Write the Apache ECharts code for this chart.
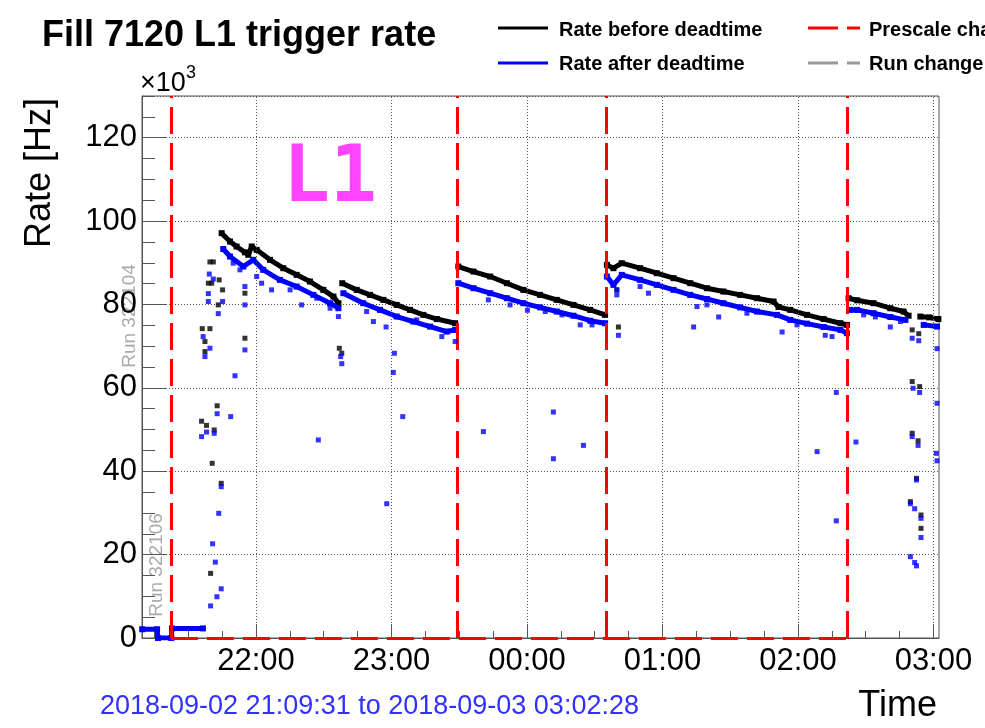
<!DOCTYPE html>
<html lang="en" style="background: #FFFFFF;height: 100%">
<head>
    <meta charset="utf-8" />
    <title>Fill 7120 L1 trigger rate</title>
    <script src="https://cdn.jsdelivr.net/npm/echarts@6/dist/echarts.min.js"></script>
</head>
<body style="margin: 0;height: 100%">
    <div id="chart" style="width:985px;height:728px"></div>
    <script>
    // x values are minutes after 2018-09-02 21:00
    let tStart = 9.52   // 21:09:31
    let tEnd = 362.47   // 03:02:28
    let hourTicks = [60, 120, 180, 240, 300, 360]
    let hourLabels = ['22:00', '23:00', '00:00', '01:00', '02:00', '03:00']
    let quarterTicks = [15, 30, 45, 60, 75, 90, 105, 120, 135, 150, 165, 180, 195, 210, 225, 240, 255, 270, 285, 300, 315, 330, 345, 360]
    let prescaleTimes = [22.3, 149.2, 215.0, 322.0]

    // rate before deadtime (x10^3 Hz), one list per fill segment
    let beforeSegments = [
        [[44.8, 97.1], [48.5, 95.1], [51.4, 93.9], [55.1, 92.5], [56.6, 91.9], [58.1, 93.9], [60.3, 93.1], [66.2, 90.7], [72.1, 88.7], [78.0, 87.1], [83.9, 85.5], [89.8, 83.5], [94.3, 81.9], [96.5, 80.3]],
        [[98.2, 85.1], [104.6, 83.5], [110.5, 82.3], [116.4, 81.1], [122.3, 79.9], [128.2, 78.7], [134.1, 77.5], [140.1, 76.5], [148.2, 75.5]],
        [[149.6, 89.1], [156.3, 87.9], [163.7, 86.7], [171.1, 85.1], [178.4, 83.5], [185.8, 82.3], [193.2, 81.1], [200.6, 79.9], [208.0, 78.7], [214.6, 77.5]],
        [[215.4, 89.5], [218.3, 88.7], [222.0, 89.9], [230.1, 88.7], [237.5, 87.5], [244.9, 86.3], [252.3, 85.1], [259.7, 83.9], [267.0, 83.1], [274.4, 82.3], [281.9, 81.5], [289.2, 80.7], [291.4, 79.4], [296.6, 78.7], [304.0, 77.5], [311.4, 76.5], [318.8, 75.5], [321.7, 75.1]],
        [[322.4, 81.5], [326.2, 81.0], [333.5, 80.3], [340.9, 79.1], [346.8, 78.3], [349.0, 77.3]],
        [[354.2, 77.1], [358.2, 76.9], [362.2, 76.5]]
    ]
    // rate after deadtime
    let afterSegments = [
        [[9.6, 2.1], [16.2, 2.1], [16.6, 0], [22.5, 0], [22.8, 2.3], [36.5, 2.3]],
        [[45.5, 93.3], [48.5, 91.5], [54.4, 89.1], [58.8, 90.7], [63.2, 88.3], [70.6, 85.9], [78.0, 84.3], [85.4, 82.3], [92.8, 80.3], [96.5, 79.1]],
        [[98.7, 82.7], [107.5, 80.3], [114.9, 78.7], [122.3, 77.1], [129.7, 75.9], [137.1, 74.7], [144.5, 73.5], [148.2, 73.9]],
        [[149.6, 85.1], [156.3, 83.9], [163.7, 82.7], [171.1, 81.5], [178.4, 80.3], [185.8, 79.3], [193.2, 78.3], [200.6, 77.3], [208.0, 76.1], [214.6, 75.5]],
        [[215.4, 86.7], [218.3, 84.7], [222.0, 87.1], [230.1, 85.9], [237.5, 84.7], [244.9, 83.5], [252.3, 82.3], [259.7, 81.3], [267.0, 80.3], [274.4, 79.3], [281.9, 78.3], [290.7, 77.5], [296.6, 76.3], [304.0, 75.4], [311.4, 74.6], [318.8, 73.9], [321.7, 73.1]],
        [[323.2, 78.7], [326.2, 78.7], [333.5, 77.9], [340.9, 77.0], [347.6, 76.3]],
        [[355.7, 75.1], [361.6, 74.7]]
    ]
    // isolated readings (dropouts, ramp-up)
    let beforeDots = [
        [36.2, 74.2], [39.6, 74.2], [37.4, 71.1], [37.4, 68.7], [39.6, 90.2], [41.1, 90.2], [38.9, 85.1], [43.3, 79.9], [45.2, 83.5], [43.7, 85.9], [40.4, 85.1],
        [55.1, 71.9], [55.1, 82.7], [42.8, 55.7], [35.9, 52.0], [38.1, 51.0], [41.5, 49.9], [40.6, 41.9], [44.6, 37.1], [39.9, 15.5],
        [96.9, 69.5], [98.0, 68.3], [219.8, 83.5], [220.5, 74.6],
        [350.6, 73.9], [353.5, 73.0], [350.6, 61.5], [353.9, 60.3], [350.6, 49.1], [353.2, 47.3], [352.5, 38.3], [349.8, 32.7], [354.5, 29.5], [354.5, 26.3]
    ]
    let afterDots = [
        [36.6, 72.3], [37.4, 67.5], [39.6, 69.5], [39.3, 87.3], [38.9, 82.6], [38.9, 80.7], [43.3, 77.8], [41.1, 86.1], [45.2, 80.7],
        [42.8, 53.8], [48.8, 53.1], [35.9, 48.3], [38.1, 49.4], [41.5, 49.1], [44.6, 36.3], [43.5, 29.9], [40.8, 22.6], [42.0, 18.2], [44.6, 11.8], [42.7, 9.9], [39.9, 7.7],
        [49.9, 89.9], [52.9, 88.3], [60.3, 86.7], [62.5, 85.1], [66.9, 83.5], [75.1, 83.5], [80.2, 79.9], [86.9, 81.5], [92.8, 79.1], [96.5, 77.1],
        [50.7, 62.9], [55.1, 69.1], [55.1, 79.9], [55.1, 84.3],
        [109.0, 78.3], [112.0, 75.9], [117.6, 74.6], [131.2, 76.3], [142.3, 72.3], [148.2, 71.1],
        [87.6, 47.5], [125.0, 53.1], [117.9, 32.2], [121.3, 68.3], [120.8, 63.7], [97.5, 67.5], [98.0, 65.8],
        [162.9, 81.1], [172.5, 79.9], [180.2, 78.6], [188.1, 78.3], [195.5, 77.5], [203.6, 75.1], [208.8, 75.1],
        [160.7, 49.5], [191.7, 54.2], [191.7, 43.0], [205.0, 46.2],
        [219.8, 82.3], [220.5, 72.6], [219.8, 83.5], [230.1, 84.3], [233.8, 82.7], [253.8, 74.6], [264.9, 77.0], [255.3, 79.5], [259.7, 79.9], [277.4, 77.9],
        [293.0, 73.4], [299.6, 75.1], [312.1, 72.6], [315.1, 72.3], [308.5, 44.7], [317.0, 58.9], [317.0, 28.1],
        [329.1, 77.5], [334.3, 77.0], [340.9, 74.6], [345.4, 75.9], [325.7, 47.0],
        [350.6, 71.9], [353.5, 71.3], [351.0, 59.9], [353.9, 58.9], [350.6, 48.3], [353.2, 46.2], [352.5, 37.9], [349.8, 32.2], [351.7, 31.0],
        [354.5, 28.7], [354.5, 24.1], [349.8, 19.5], [351.7, 18.1], [352.5, 17.3], [361.6, 69.4], [361.6, 56.3], [361.3, 44.3], [361.6, 42.5]
    ]

    let font = "'Liberation Sans', Arial, sans-serif"
    let chart = echarts.init(document.getElementById('chart'))

    let series = []
    // grid lines and prescale markers
    series.push({
        type: 'line',
        data: [],
        z: 1,
        markLine: {
            silent: true,
            symbol: ['none', 'none'],
            label: { show: false },
            animation: false,
            data: hourTicks.map(t => ({ xAxis: t, lineStyle: { color: '#555', width: 1, type: [1, 2] } }))
                .concat(prescaleTimes.map(t => ({ xAxis: t, lineStyle: { color: '#ff0000', width: 3, type: [27, 9] } })))
                .concat([[{ coord: [prescaleTimes[0], 0], lineStyle: { color: '#ff0000', width: 3, type: [27, 9] } }, { coord: [prescaleTimes[3], 0] }]])
        }
    })
    beforeSegments.forEach(seg => {
        series.push({
            type: 'line', data: seg, z: 2, symbol: 'rect', symbolSize: 6, showSymbol: true,
            lineStyle: { color: '#000', width: 5 }, itemStyle: { color: '#000' }
        })
    })
    afterSegments.forEach(seg => {
        series.push({
            type: 'line', data: seg, z: 3, symbol: 'rect', symbolSize: 6, showSymbol: true,
            lineStyle: { color: '#0000ff', width: 5 }, itemStyle: { color: '#0000ff' }
        })
    })
    series.push({ type: 'scatter', data: beforeDots, z: 4, symbol: 'rect', symbolSize: 5, itemStyle: { color: '#000' } })
    series.push({ type: 'scatter', data: afterDots, z: 5, symbol: 'rect', symbolSize: 5, itemStyle: { color: '#0000ff' } })

    function txt(x, y, text, css, opts) {
        return Object.assign({
            type: 'text', x: x, y: y, silent: true,
            style: Object.assign({ text: text, fill: '#000', font: css, align: 'left', verticalAlign: 'middle' }, opts && opts.style)
        }, opts && opts.el)
    }

    let axisColor = '#555'
    let option = {
        animation: false,
        backgroundColor: '#fff',
        grid: { left: 142, right: 46, top: 96, bottom: 90, show: true, borderColor: axisColor, borderWidth: 1 },
        xAxis: [{
            type: 'value', min: tStart, max: tEnd, position: 'bottom',
            axisLine: { lineStyle: { color: axisColor } },
            axisTick: { inside: true, length: 14, customValues: hourTicks, lineStyle: { color: axisColor } },
            axisLabel: {
                customValues: hourTicks, margin: 8, color: '#000', fontSize: 31, fontFamily: font,
                formatter: v => hourLabels[hourTicks.indexOf(Math.round(v))] || ''
            },
            splitLine: { show: false }
        }, {
            type: 'value', min: tStart, max: tEnd, position: 'bottom',
            axisLine: { show: false },
            axisTick: { inside: true, length: 7, customValues: quarterTicks, lineStyle: { color: axisColor } },
            axisLabel: { show: false },
            splitLine: { show: false }
        }],
        yAxis: [{
            type: 'value', min: 0, max: 130, interval: 20, position: 'left',
            axisLine: { show: true, lineStyle: { color: axisColor } },
            axisTick: { show: true, inside: true, length: 25, lineStyle: { color: axisColor } },
            axisLabel: { margin: 5, color: '#000', fontSize: 31, fontFamily: font, showMaxLabel: false },
            splitLine: { show: true, lineStyle: { color: axisColor, width: 1, type: [1, 2] } }
        }, {
            type: 'value', min: 0, max: 130, interval: 5, position: 'left',
            axisLine: { show: false },
            axisTick: { show: true, inside: true, length: 13, lineStyle: { color: axisColor } },
            axisLabel: { show: false },
            splitLine: { show: false }
        }],
        series: series,
        graphic: [
            txt(42, 36, 'Fill 7120 L1 trigger rate', 'bold 36px ' + font),
            { type: 'line', shape: { x1: 498, y1: 28, x2: 548, y2: 28 }, style: { stroke: '#000', lineWidth: 3 } },
            { type: 'line', shape: { x1: 498, y1: 63, x2: 548, y2: 63 }, style: { stroke: '#0000ff', lineWidth: 3 } },
            { type: 'line', shape: { x1: 808, y1: 28, x2: 860, y2: 28 }, style: { stroke: '#ff0000', lineWidth: 3, lineDash: [30, 9] } },
            { type: 'line', shape: { x1: 808, y1: 63, x2: 860, y2: 63 }, style: { stroke: '#999', lineWidth: 3, lineDash: [30, 9] } },
            txt(559, 30, 'Rate before deadtime', 'bold 20px ' + font),
            txt(559, 64, 'Rate after deadtime', 'bold 20px ' + font),
            txt(869, 30, 'Prescale change', 'bold 20px ' + font),
            txt(869, 64, 'Run change', 'bold 20px ' + font),
            txt(140, 84, '×10', '27px ' + font),
            txt(186, 73, '3', '18px ' + font),
            txt(40, 173, 'Rate [Hz]', '36px ' + font, { style: { align: 'center' }, el: { rotation: Math.PI / 2 } }),
            txt(937, 706, 'Time', '36px ' + font, { style: { align: 'right' } }),
            txt(100, 707, '2018-09-02 21:09:31 to 2018-09-03 03:02:28', '27px ' + font, { style: { fill: '#3030ff' } }),
            txt(283, 181, 'L1', "bold 78px 'DejaVu Sans Mono', monospace", { style: { fill: '#ff44ff' } }),
            txt(130, 316, 'Run 322104', '19px ' + font, { style: { fill: '#aaa', align: 'center' }, el: { rotation: Math.PI / 2 } }),
            txt(157, 565, 'Run 322106', '19px ' + font, { style: { fill: '#aaa', align: 'center' }, el: { rotation: Math.PI / 2 } })
        ]
    }
    chart.setOption(option)
    </script>
</body>
</html>
